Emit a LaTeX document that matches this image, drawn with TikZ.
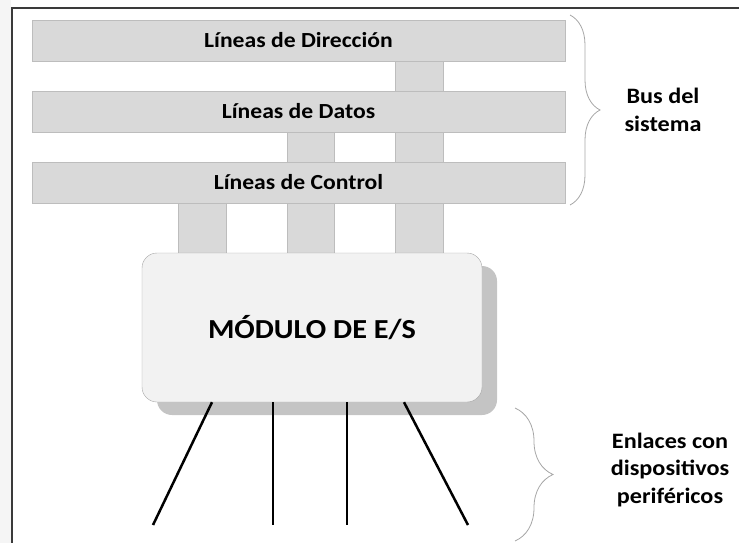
\documentclass[tikz,border=0pt]{standalone}
\usepackage{fontspec}
\setmainfont{Carlito}[FakeStretch=1.1]
\usepackage{tikz}
\usetikzlibrary{shadows, decorations.pathreplacing, backgrounds}
\definecolor{barra}{HTML}{D9D9D9}
\definecolor{bordebarra}{HTML}{BDBDBD}
\definecolor{fondomodulo}{HTML}{F2F2F2}
\definecolor{bordemodulo}{HTML}{A6A6A6}
\definecolor{sombra}{HTML}{C4C4C4}
\definecolor{marco}{HTML}{3A3A3A}
\tikzstyle{busbar} =
[rectangle, minimum width = 533pt, minimum height = 41pt, text centered,
draw=bordebarra, fill=barra, font=\bfseries\fontsize{21.5}{26}\selectfont]
\tikzstyle{stem} = [draw=bordebarra, fill=barra]
\tikzstyle{modulo} =
[rectangle, rounded corners = 15pt, minimum width = 340pt, minimum height = 149pt,
text centered, draw=bordemodulo, fill=fondomodulo,
font=\bfseries\fontsize{27.5}{32}\selectfont,
drop shadow={shadow xshift=15pt, shadow yshift=-13pt, fill=sombra, opacity=1}]
\tikzstyle{rotulo} =
[rectangle, align=center, font=\bfseries\fontsize{22}{27.5}\selectfont]
\tikzstyle{enlace} = [draw, line width=2.5pt]
\tikzstyle{llave} = [draw=gray!70, line width=0.8pt, decorate]

\begin{document}
\begin{tikzpicture}[x=1pt, y=-1pt, node distance = 71pt]
  \useasboundingbox (0,0) rectangle (739,543);
  % marco
  \fill [gray!8] (0,0) rectangle (11,543);
  \draw [marco, line width=1.5pt] (12,543) -- (12,8) -- (739,8);
  %
  % bus del sistema
  \node [busbar] (dir) at (298.5,40.5) {Líneas de Dirección};
  \node [busbar, below of=dir] (dat) {Líneas de Datos};
  \node [busbar, below of=dat] (ctl) {Líneas de Control};
  % modulo
  \node [modulo] (mod) at (312,327.5) {MÓDULO DE E/S};
  % stems (behind bars)
  \coordinate (dira) at ([xshift=96.5pt]dir.south);
  \coordinate (dirb) at ([xshift=144.5pt]dir.south);
  \coordinate (data) at ([xshift=-11.5pt]dat.south);
  \coordinate (datb) at ([xshift=35.5pt]dat.south);
  \coordinate (ctla) at ([xshift=-120.5pt]ctl.south);
  \coordinate (ctlb) at ([xshift=-72.5pt]ctl.south);
  \begin{pgfonlayer}{background}
    \path [stem] (dira) rectangle (dirb |- mod.north);
    \path [stem] (data) rectangle (datb |- mod.north);
    \path [stem] (ctla) rectangle (ctlb |- mod.north);
  \end{pgfonlayer}
  %
  % enlaces
  \coordinate (p1) at (153,525);
  \coordinate (p2) at (273,525);
  \coordinate (p3) at (347,525);
  \coordinate (p4) at (468,525);
  \path [enlace] ([xshift=-100pt]mod.south) -- (p1);
  \path [enlace] ([xshift=-39pt]mod.south) -- (p2);
  \path [enlace] ([xshift=35pt]mod.south) -- (p3);
  \path [enlace] ([xshift=92pt]mod.south) -- (p4);
  %
  % llaves
  \coordinate (busa) at (570,15);
  \coordinate (busb) at (570,205);
  \path [llave, decoration={brace, amplitude=30pt}] (busa) -- (busb);
  \node [rotulo] (bus) at (663,110) {Bus del\\sistema};
  \coordinate (enla) at (515,408);
  \coordinate (enlb) at (515,541);
  \path [llave, decoration={brace, amplitude=38pt}] (enla) -- (enlb);
  \node [rotulo] (enl) at (670,470) {Enlaces con\\dispositivos\\periféricos};
\end{tikzpicture}
\end{document}
